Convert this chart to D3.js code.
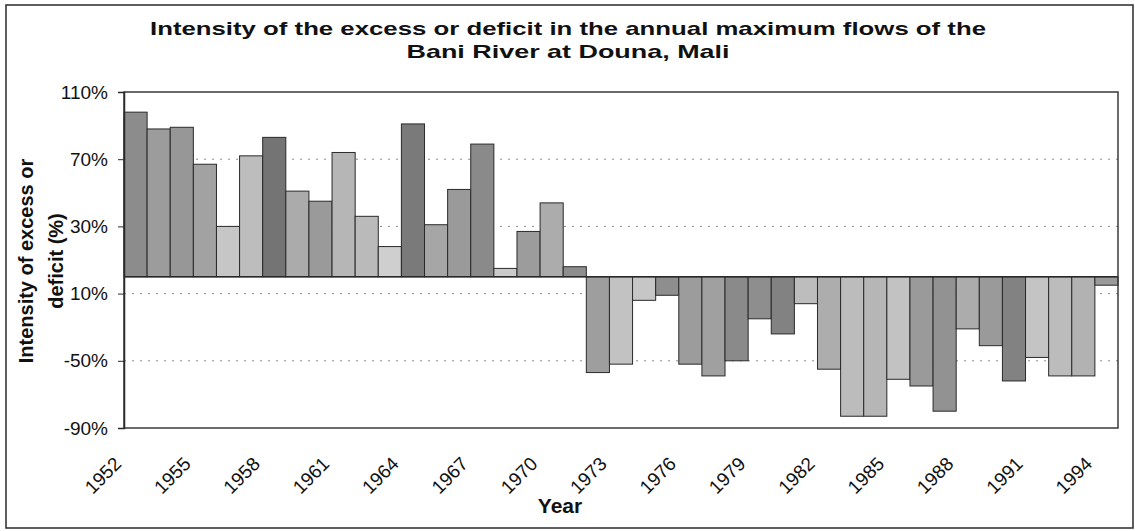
<!DOCTYPE html>
<html>
<head>
<meta charset="utf-8">
<script src="https://cdn.jsdelivr.net/npm/d3@7/dist/d3.min.js"></script>
<style>
  html, body { margin: 0; padding: 0; background: #fff; }
  svg { display: block; font-family: "Liberation Sans", Arial, sans-serif; }
</style>
</head>
<body>
<svg id="chart" width="1135" height="531"></svg>
<script>
const years = [1952,1953,1954,1955,1956,1957,1958,1959,1960,1961,1962,1963,1964,1965,1966,1967,1968,1969,1970,1971,
  1972,1973,1974,1975,1976,1977,1978,1979,1980,1981,1982,1983,1984,1985,1986,1987,1988,1989,1990,1991,1992,1993,1994];
const intensity = [98,88,89,67,30,72,83,51,45,74,36,18,91,31,52,79,5,27,44,6,
  -57,-52,-14,-11,-52,-59,-50,-25,-34,-16,-55,-83,-83,-61,-65,-80,-31,-41,-62,-48,-59,-59,-5];
const barGrays = ["#8c8c8c","#9c9c9c","#979797","#a2a2a2","#c6c6c6","#bdbdbd","#747474","#ababab","#9a9a9a","#b6b6b6","#bababa","#cfcfcf",
  "#7a7a7a","#a6a6a6","#9a9a9a","#8a8a8a","#cacaca","#9c9c9c","#acacac","#8e8e8e",
  "#9e9e9e","#c2c2c2","#c6c6c6","#8e8e8e","#9c9c9c","#a0a0a0","#8a8a8a","#8e8e8e","#828282","#bdbdbd","#adadad","#bcbcbc",
  "#b6b6b6","#c2c2c2","#9a9a9a","#929292","#acacac","#9a9a9a","#828282","#c4c4c4","#bcbcbc","#b2b2b2","#9a9a9a"];
const labelYears = [1952,1955,1958,1961,1964,1967,1970,1973,1976,1979,1982,1985,1988,1991,1994];
const tickValues = [110,70,30,-10,-50,-90];
const tickLabels = ["110%","70%","30%","10%","-50%","-90%"];
const gridValues = [70,30,-10,-50];
const titleLines = ["Intensity of the excess or deficit in the annual maximum flows of the","Bani River at Douna, Mali"];
const yTitleLines = ["Intensity of excess or","deficit (%)"];
const xTitle = "Year";

const svg = d3.select("#chart");
const plot = {left: 124, right: 1118, top: 92, bottom: 428};

const x = d3.scaleBand().domain(years).range([plot.left, plot.right]).paddingInner(0).paddingOuter(0);
const y = d3.scaleLinear().domain([-90, 110]).range([plot.bottom, plot.top]);

// outer frame
svg.append("rect").attr("x", 6).attr("y", 5).attr("width", 1127).attr("height", 523)
  .attr("fill", "#fff").attr("stroke", "#2a2a2a").attr("stroke-width", 1.5);

// gridlines
svg.append("g").selectAll("line").data(gridValues).join("line")
  .attr("x1", plot.left).attr("x2", plot.right)
  .attr("y1", d => y(d)).attr("y2", d => y(d))
  .attr("stroke", "#8a8a8a").attr("stroke-width", 1).attr("stroke-dasharray", "2,6");

// bars
svg.append("g").selectAll("rect").data(years).join("rect")
  .attr("x", d => x(d))
  .attr("width", x.bandwidth())
  .attr("y", (d, i) => y(Math.max(0, intensity[i])))
  .attr("height", (d, i) => Math.abs(y(intensity[i]) - y(0)))
  .attr("fill", (d, i) => barGrays[i])
  .attr("stroke", "#2a2a2a").attr("stroke-width", 1);

// zero line
svg.append("line").attr("x1", plot.left).attr("x2", plot.right)
  .attr("y1", y(0)).attr("y2", y(0)).attr("stroke", "#2a2a2a").attr("stroke-width", 1.5);

// plot border
svg.append("rect").attr("x", plot.left).attr("y", plot.top)
  .attr("width", plot.right - plot.left).attr("height", plot.bottom - plot.top)
  .attr("fill", "none").attr("stroke", "#3a3a3a").attr("stroke-width", 1.5);

// y axis
const yAxis = svg.append("g").attr("transform", `translate(${plot.left},0)`)
  .call(d3.axisLeft(y).tickValues(tickValues).tickFormat((d, i) => tickLabels[i]).tickSize(6).tickPadding(10));
yAxis.select(".domain").attr("stroke", "#2a2a2a").attr("stroke-width", 1.5);
yAxis.selectAll(".tick line").attr("stroke", "#2a2a2a");
yAxis.selectAll(".tick text").attr("font-size", 19).attr("fill", "#111")
  .attr("font-family", "'Liberation Sans', Arial, sans-serif");

// x axis labels
const xAxis = svg.append("g").attr("transform", `translate(0,${plot.bottom})`)
  .call(d3.axisBottom(x).tickValues(labelYears).tickSize(0));
xAxis.select(".domain").remove();
xAxis.selectAll(".tick text")
  .attr("font-size", 19).attr("fill", "#111")
  .attr("font-family", "'Liberation Sans', Arial, sans-serif")
  .attr("text-anchor", "end").attr("x", 0).attr("y", 0).attr("dy", 0)
  .attr("transform", "translate(-13,37) rotate(-45)");

// title
svg.append("g").selectAll("text").data(titleLines).join("text")
  .attr("x", 568).attr("y", (d, i) => 35 + i * 22.5)
  .attr("text-anchor", "middle").attr("font-weight", "bold").attr("font-size", 19)
  .attr("fill", "#111")
  .attr("textLength", (d, i) => i === 0 ? 836 : 323)
  .attr("lengthAdjust", "spacingAndGlyphs")
  .text(d => d);

// y title
svg.append("g").selectAll("text").data(yTitleLines).join("text")
  .attr("transform", (d, i) => `translate(${33 + i * 30},261) rotate(-90)`)
  .attr("text-anchor", "middle").attr("font-weight", "bold").attr("font-size", 20)
  .attr("fill", "#111")
  .text(d => d);

// x title
svg.append("text").attr("x", 560).attr("y", 513)
  .attr("text-anchor", "middle").attr("font-weight", "bold").attr("font-size", 21)
  .attr("fill", "#111").text(xTitle);
</script>
</body>
</html>
